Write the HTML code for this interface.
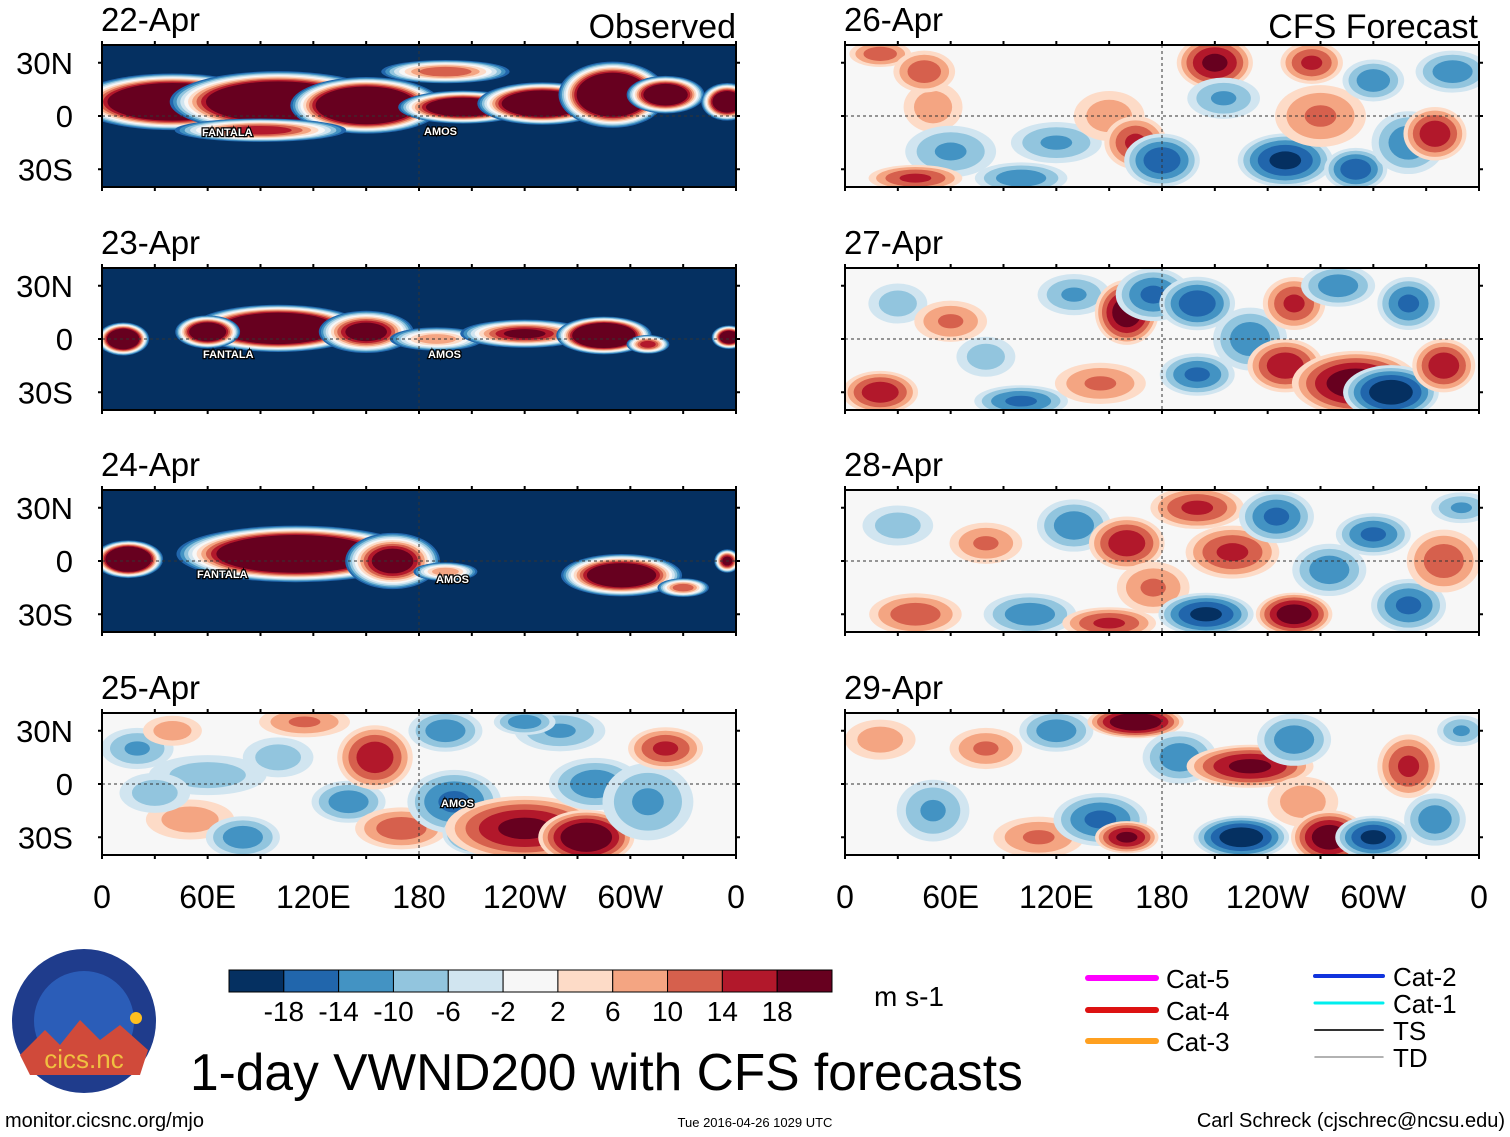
<!DOCTYPE html>
<html><head><meta charset="utf-8"><style>
body{margin:0;background:#fff;font-family:"Liberation Sans",sans-serif}
svg{display:block}
</style></head><body>
<svg id="s" width="1510" height="1137" xmlns="http://www.w3.org/2000/svg"></svg>
<script>
const panelDates=["22-Apr","23-Apr","24-Apr","25-Apr","26-Apr","27-Apr","28-Apr","29-Apr"];
const panelBase=[-20,-20,-20,0,0,0,0,0];
// blobs: [lon, lat, lonRadius, latRadius, peak value m/s]
const blobs22=[[40,8,45,12,40],[100,8,50,13,40],[150,6,35,12,40],[205,5,30,7,30],[250,7,30,9,35],[290,12,25,14,40],[320,12,18,8,30],[355,8,12,8,30],[195,25,30,5,12],[90,-8,40,5,15]];
const blobs23=[[12,0,12,7,35],[100,6,40,10,40],[60,4,15,7,30],[150,4,22,9,22],[190,0,22,5,8],[240,3,30,6,18],[285,2,22,8,40],[310,-3,10,4,15],[356,1,8,5,28]];
const blobs24=[[15,1,16,8,40],[110,4,55,12,40],[165,0,22,12,22],[195,-6,15,4,8],[295,-8,28,9,30],[330,-15,12,4,12],[355,0,6,5,20]];
const blobs25=[[20,20,12,8,-10],[40,30,10,6,8],[60,5,20,8,-8],[50,-20,15,8,8],[80,-30,12,8,-12],[115,35,15,6,10],[140,-10,12,8,-12],[155,15,12,12,16],[170,-25,15,8,12],[200,-10,15,12,-14],[215,-28,12,8,-18],[195,30,12,8,-12],[240,-25,25,12,18],[275,-30,15,10,22],[280,0,15,10,-12],[260,30,15,8,-10],[310,-10,15,15,-10],[320,20,12,8,14],[240,35,10,5,-12],[100,15,12,8,-8],[30,-5,12,8,-8]];
const blobs26=[[20,35,10,5,12],[50,5,10,10,8],[60,-20,15,10,-10],[45,25,10,8,12],[100,-35,15,6,-12],[120,-15,15,8,-10],[150,0,12,10,8],[165,-15,10,10,14],[180,-25,12,10,-16],[210,30,12,10,18],[215,10,12,8,-10],[250,-25,15,10,-18],[270,0,15,12,10],[265,30,10,8,14],[290,-30,10,8,-16],[300,20,10,8,-12],[320,-15,12,12,-12],[335,-10,10,10,16],[345,25,12,8,-12],[40,-35,15,5,14]];
const blobs27=[[20,-30,12,8,16],[30,20,10,8,-8],[60,10,12,8,10],[100,-35,15,6,-14],[130,25,12,8,-10],[160,15,10,12,20],[175,25,12,10,-14],[145,-25,15,8,10],[200,20,12,10,-16],[200,-20,12,8,-14],[230,0,12,12,-12],[250,-15,12,10,16],[255,20,10,10,14],[290,-25,20,12,20],[310,-30,15,10,-20],[280,30,12,8,-12],[320,20,10,10,-14],[340,-15,10,10,16],[80,-10,10,8,-8]];
const blobs28=[[30,20,12,8,-8],[40,-30,15,8,12],[80,10,12,8,10],[105,-30,15,8,-12],[130,20,12,10,-12],[150,-35,15,6,14],[160,10,12,10,16],[175,-15,12,10,10],[200,30,15,8,14],[205,-30,15,8,-18],[220,5,15,10,14],[245,25,12,10,-14],[255,-30,12,8,20],[275,-5,12,10,-12],[300,15,12,8,-14],[320,-25,12,10,-14],[340,0,12,12,12],[350,30,10,6,-10]];
const blobs29=[[20,25,12,8,8],[50,-15,12,12,-10],[80,20,12,8,10],[110,-30,15,8,10],[120,30,12,8,-12],[145,-20,15,10,-14],[160,-30,10,6,18],[165,35,15,6,22],[190,15,12,10,-12],[230,10,20,8,18],[225,-30,15,8,-20],[255,25,12,10,-12],[260,-10,12,10,8],[275,-30,12,10,20],[300,-30,12,8,-18],[320,10,10,12,14],[335,-20,10,10,-12],[350,30,8,6,-10]];
const panelBlobs=[blobs22,blobs23,blobs24,blobs25,blobs26,blobs27,blobs28,blobs29];
const levels=[-18,-14,-10,-6,-2,2,6,10,14,18];
const colors=["#053061","#2166ac","#4393c3","#92c5de","#d1e5f0","#f7f7f7","#fddbc7","#f4a582","#d6604d","#b2182b","#67001f"];
const lonTicks=["0","60E","120E","180","120W","60W","0"];
const latTicks=[["30N",30],["0",0],["30S",-30]];

const S=document.getElementById('s');const NS="http://www.w3.org/2000/svg";
function el(t,a,p){const e=document.createElementNS(NS,t);for(const k in a)e.setAttribute(k,a[k]);(p||S).appendChild(e);return e;}
function colorIdx(v){let i=0;while(i<levels.length&&v>=levels[i])i++;return i;}
const PX=[102,845],PW=634,PY=[45,268,490,713],PH=142;
panelDates.forEach((d,k)=>{
  const col=k<4?0:1,row=k%4;
  const x0=PX[col],y0=PY[row];
  const xs=lon=>x0+lon/360*PW, ys=lat=>y0+PH/2-lat/40*(PH/2);
  const b=panelBase[k];
  const fx=b<0?1.25:1.9, fy=b<0?1.35:1.6;
  const g=el('g',{});
  
  
  const cp=el('clipPath',{id:'c'+k},g);el('rect',{x:x0,y:y0,width:PW,height:PH},cp);
  const gg=el('g',{'clip-path':'url(#c'+k+')'},g);
  el('rect',{x:x0,y:y0,width:PW,height:PH,fill:colors[colorIdx(b)]},gg);
  panelBlobs[k].forEach(bl=>{
    const [lon,lat,rl,rt,p]=bl;
    const ts=p>b?levels.filter(t=>t>b&&t<=p):levels.filter(t=>t<b&&t>=p).reverse();
    ts.forEach(t=>{
      const sc=Math.sqrt(Math.max(0,1-0.9*(t-b)/(p-b)));
      const ci=p>b?levels.indexOf(t)+1:levels.indexOf(t);
      const e=el('ellipse',{cx:xs(lon),cy:ys(lat),rx:rl*fx/360*PW*sc,ry:rt*fy/40*(PH/2)*sc,fill:colors[ci]},gg);
      
      
    });
  });
  el('line',{x1:x0,x2:x0+PW,y1:ys(0),y2:ys(0),stroke:'#333','stroke-dasharray':'3,3','stroke-width':1},g);
  el('line',{x1:xs(180),x2:xs(180),y1:y0,y2:y0+PH,stroke:'#333','stroke-dasharray':'3,3','stroke-width':1},g);
  el('rect',{x:x0,y:y0,width:PW,height:PH,fill:'none',stroke:'#000','stroke-width':2},g);
  for(let l=0;l<=360;l+=30){el('line',{x1:xs(l),x2:xs(l),y1:y0-4,y2:y0,stroke:'#000','stroke-width':2},g);el('line',{x1:xs(l),x2:xs(l),y1:y0+PH,y2:y0+PH+4,stroke:'#000','stroke-width':2},g);}
  latTicks.forEach(([s,v])=>{el('line',{x1:x0-4,x2:x0,y1:ys(v),y2:ys(v),stroke:'#000','stroke-width':2},g);el('line',{x1:x0+PW,x2:x0+PW+4,y1:ys(v),y2:ys(v),stroke:'#000','stroke-width':2},g);});
  const tt=el('text',{x:x0-1,y:y0-14,'font-size':33,fill:'#000'},g);tt.textContent=d;
  
  if(col==0)latTicks.forEach(([s,v])=>{const t=el('text',{x:73,y:ys(v)+11,'font-size':31,'text-anchor':'end'},g);t.textContent=s;});
  if(row==3)lonTicks.forEach((s,i)=>{const t=el('text',{x:xs(i*60),y:908,'font-size':32,'text-anchor':'middle'},g);t.textContent=s;});
});
function lab(x,y,s){const t=el('text',{x:x,y:y,'font-size':11,fill:'#fff',stroke:'#000','stroke-width':2.5,'paint-order':'stroke','font-weight':'bold'});t.textContent=s;}
lab(202,136,"FANTALA");lab(424,135,"AMOS");lab(203,358,"FANTALA");lab(428,358,"AMOS");lab(197,578,"FANTALA");lab(436,583,"AMOS");lab(441,807,"AMOS");
let t=el('text',{x:736,y:38,'font-size':34,'text-anchor':'end'});t.textContent="Observed";
t=el('text',{x:1478,y:38,'font-size':34,'text-anchor':'end'});t.textContent="CFS Forecast";
const cb=el('g',{});
const cw=603/11;
colors.forEach((c,i)=>el('rect',{x:229+i*cw,y:970,width:cw,height:22,fill:c,stroke:'#000','stroke-width':1},cb));
levels.forEach((v,i)=>{const tx=el('text',{x:229+(i+1)*cw,y:1021,'font-size':28,'text-anchor':'middle'},cb);tx.textContent=v;});
t=el('text',{x:874,y:1006,'font-size':28});t.textContent="m s-1";
t=el('text',{x:190,y:1090,'font-size':51.5});t.textContent="1-day VWND200 with CFS forecasts";

const lg=[["Cat-5","#ff00ff",1088,978,6],["Cat-4","#dd1111",1088,1010,6],["Cat-3","#ffa020",1088,1041,6],["Cat-2","#1133dd",1315,976,4],["Cat-1","#00eeee",1315,1003,3],["TS","#333",1315,1030,2],["TD","#999",1315,1057,1.5]];
lg.forEach(([n,c,x,y,w])=>{const g=el('g',{});
el('line',{x1:x,x2:x+68,y1:y,y2:y,stroke:c,'stroke-width':w,'stroke-linecap':'round'},g);
const tx=el('text',{x:x+78,y:y+10,'font-size':26},g);tx.textContent=n;});
const lo=el('g',{});
el('circle',{cx:84,cy:1021,r:72,fill:'#1f3c8c'},lo);
el('circle',{cx:84,cy:1021,r:50,fill:'#2b5db8'},lo);
el('path',{d:'M20,1055 L45,1030 L60,1045 L80,1020 L100,1040 L120,1025 L148,1050 L140,1075 L30,1075Z',fill:'#d04a3a'},lo);
el('circle',{cx:136,cy:1018,r:6,fill:'#ffc020'},lo);
t=el('text',{x:84,y:1068,'font-size':26,fill:'#f0c040','text-anchor':'middle'},lo);t.textContent="cics.nc";
t=el('text',{x:5,y:1127,'font-size':20});t.textContent="monitor.cicsnc.org/mjo";
t=el('text',{x:755,y:1127,'font-size':13,'text-anchor':'middle'});t.textContent="Tue 2016-04-26 1029 UTC";
t=el('text',{x:1505,y:1127,'font-size':20,'text-anchor':'end'});t.textContent="Carl Schreck (cjschrec@ncsu.edu)";
</script>
</body></html>
